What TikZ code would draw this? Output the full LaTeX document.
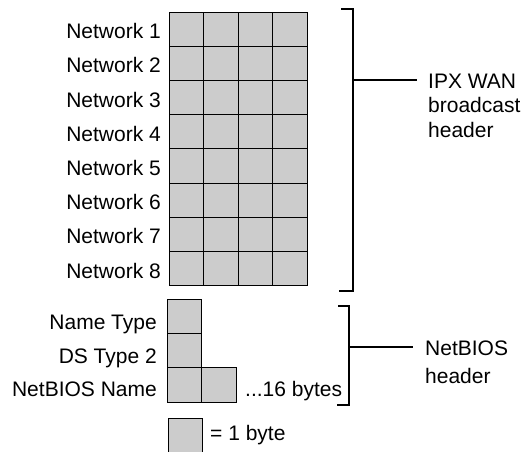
\documentclass[tikz,border=0pt]{standalone}
\usepackage{fontspec}
\setmainfont{Liberation Sans}
\usepackage{tikz}
\usetikzlibrary{positioning}

\begin{document}
\begin{tikzpicture}[x=1pt, y=-1pt,
    byte/.style={draw, fill=black!20, line width=1pt, minimum width=34.5pt, minimum height=34.2pt, inner sep=0pt, outer sep=0pt},
    field/.style={anchor=base east, inner sep=0pt, font=\fontsize{21}{25}\selectfont},
    note/.style={anchor=base west, inner sep=0pt, align=left, font=\fontsize{21}{24.5}\selectfont},
    brace/.style={line width=1.3pt},
]
\useasboundingbox (0,0) rectangle (526,451);

% --- IPX WAN broadcast header: 8 networks x 4 bytes ---
\foreach \r in {1,...,8} {
    \node[field] (net\r) at (161, 12+34.2*\r-7.6) {Network \r};
    \foreach \c in {1,...,4}
        \node[byte] (cell-\r-\c) at (169+34.5*\c-17.25, 12+34.2*\r-17.1) {};
}

% --- NetBIOS header ---
\node[byte] (nametype) at (184.5,316.5) {};
\node[byte, below=0pt of nametype] (dstype) {};
\node[byte, below=0pt of dstype] (nbname1) {};
\node[byte, right=0pt of nbname1] (nbname2) {};

\node[field] (nametypelbl) at (157,329) {Name Type};
\node[field] (dstypelbl) at (157,363) {DS Type 2};
\node[field] (nbnamelbl) at (157,396) {NetBIOS Name};
\node[field, anchor=base west] (nbbytes) at (245,396) {...16 bytes};

% --- legend ---
\node[byte] (legend) at (185.5,435.1) {};
\node[field, anchor=base west] (legendlbl) at (210,440) {= 1 byte};

% --- brackets ---
\coordinate (ipxtl) at (341,9);
\coordinate (ipxtr) at (353,9);
\coordinate (ipxbr) at (353,291);
\coordinate (ipxbl) at (339,291);
\coordinate (ipxmid) at (353,80);
\draw[brace] (ipxtl) -- (ipxtr) -- (ipxbr) -- (ipxbl);

\coordinate (nbtl) at (338,306);
\coordinate (nbtr) at (349,306);
\coordinate (nbbr) at (349,405);
\coordinate (nbbl) at (337,405);
\coordinate (nbmid) at (349,347);
\draw[brace] (nbtl) -- (nbtr) -- (nbbr) -- (nbbl);

% base of a multi-line node is its last line
\node[note] (ipxlbl) at (428,137) {IPX WAN\\broadcast\\header};
\node[note] (nblbl) at (425,383) {NetBIOS\\[3.5pt]header};

\draw[brace] (ipxmid) -- ([xshift=-11pt]ipxmid -| ipxlbl.west);
\draw[brace] (nbmid) -- ([xshift=-12pt]nbmid -| nblbl.west);
\end{tikzpicture}
\end{document}
